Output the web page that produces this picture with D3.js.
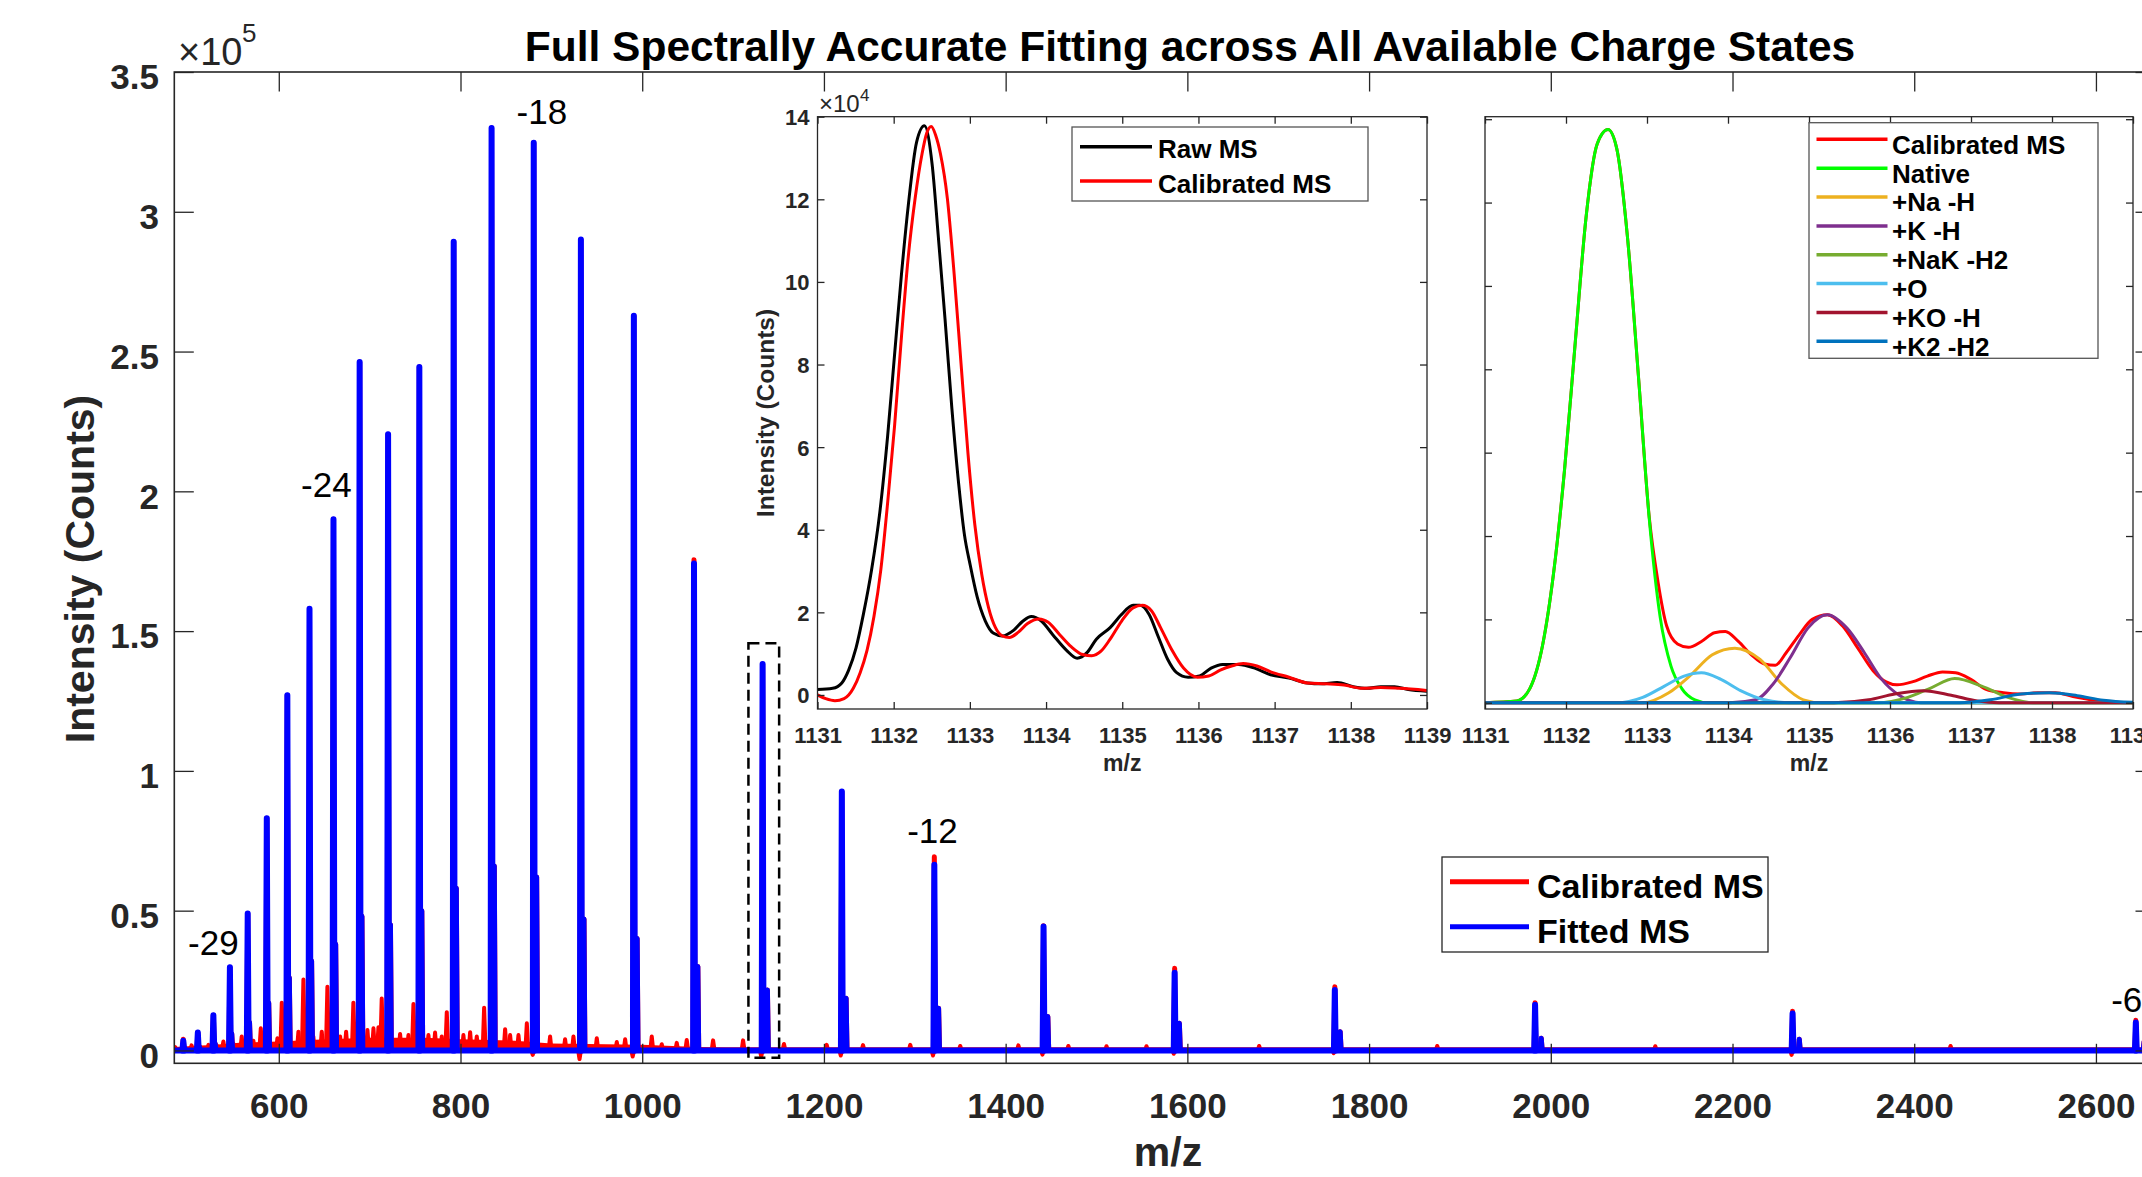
<!DOCTYPE html>
<html lang="en">
<head>
<meta charset="UTF-8">
<title>Full Spectrally Accurate Fitting across All Available Charge States</title>
<style>
  body { margin: 0; background: #fff; overflow: hidden; }
  svg { display: block; font-family: "Liberation Sans", Arial, Helvetica, sans-serif; }
</style>
</head>
<body>
<svg id="chart" width="2142" height="1177"></svg>
<script src="https://cdn.jsdelivr.net/npm/d3@7"></script>
<script>
// ---------------- data (intensities of the main panel in units of 1e5 counts) ----------------
const chargeStates = [32, 31, 30, 29, 28, 27, 26, 25, 24, 23, 22, 21, 20, 19, 18, 17, 16, 15, 14, 13, 12, 11, 10, 9, 8, 7, 6];
const peakMz = [494.9, 510.9, 528.0, 546.2, 565.8, 586.8, 609.4, 633.8, 660.2, 689.0, 720.3, 754.7, 792.5, 834.2, 880.6,
  932.5, 990.8, 1057.0, 1132.5, 1219.7, 1321.5, 1441.7, 1586.0, 1762.3, 1982.7, 2266.1, 2643.9];
const fittedHeight = [0.035, 0.064, 0.126, 0.298, 0.49, 0.831, 1.271, 1.58, 1.90, 2.463, 2.204, 2.445, 2.893, 3.300, 3.247,
  2.901, 2.628, 1.742, 1.382, 0.926, 0.664, 0.443, 0.278, 0.216, 0.163, 0.132, 0.10];
const calibratedHeight = [0.04, 0.064, 0.126, 0.298, 0.49, 0.831, 1.271, 1.58, 1.90, 2.463, 2.204, 2.445, 2.893, 3.300, 3.247,
  2.901, 2.628, 1.755, 1.382, 0.926, 0.693, 0.446, 0.294, 0.228, 0.171, 0.14, 0.108];
const shoulderMz = [496.6, 512.7, 529.9, 548.2, 567.8, 588.9, 611.6, 636.1, 662.6, 691.5, 722.9, 757.4, 795.4, 837.2, 883.8,
  935.9, 994.4, 1061.2, 1137.8, 1224.4, 1326.2, 1446.4, 1591.2, 1768.2, 1989.5, 2273.5, 2653.0];
const shoulderHeight = [0.008, 0.012, 0.025, 0.06, 0.1, 0.17, 0.26, 0.32, 0.38, 0.48, 0.45, 0.5, 0.58, 0.66, 0.62,
  0.47, 0.40, 0.30, 0.216, 0.187, 0.151, 0.121, 0.097, 0.067, 0.044, 0.04, 0.03];

// small unassigned peaks of the calibrated spectrum
const noiseMz = [486, 495, 504, 513, 522.6, 531.7, 539, 545, 550, 559.2, 566, 572, 580.2, 590, 598.5, 603.3, 612, 621.6, 627.1, 638,
  647.3, 653.5, 667.5, 674.1, 682.1, 697.6, 704.2, 709.7, 713.3, 733.5, 742.7, 748.2, 764.7, 772, 779.4, 784.9, 803.2, 810.6,
  817.9, 826, 849.1, 854.6, 863.8, 873, 898.6, 915.1, 924.3, 950, 972, 981.2, 1010.5, 1021.5, 1038, 1049, 1078, 1111, 1156,
  1203, 1243, 1295, 1350, 1414, 1469, 1511, 1555, 1679, 1875, 2115, 2440];
const noiseHeight = [0.012, 0.02, 0.018, 0.015, 0.02, 0.018, 0.032, 0.022, 0.025, 0.05, 0.03, 0.035, 0.079, 0.035, 0.044, 0.171,
  0.04, 0.067, 0.254, 0.05, 0.067, 0.228, 0.05, 0.067, 0.171, 0.073, 0.079, 0.083, 0.186, 0.059, 0.055, 0.166, 0.055, 0.064,
  0.05, 0.137, 0.055, 0.065, 0.05, 0.153, 0.076, 0.055, 0.055, 0.097, 0.05, 0.04, 0.05, 0.044, 0.03, 0.04, 0.05, 0.022,
  0.027, 0.037, 0.036, 0.036, 0.023, 0.02, 0.019, 0.02, 0.016, 0.018, 0.016, 0.015, 0.015, 0.016, 0.016, 0.015, 0.016];
// upper edge of the dense low-level band of the calibrated trace
const bandMz = [485, 530, 560, 600, 640, 700, 760, 800, 860, 900, 1000, 1060, 1100];
const bandLevel = [0.012, 0.02, 0.028, 0.032, 0.038, 0.045, 0.045, 0.04, 0.035, 0.025, 0.02, 0.012, 0.008];
const dipMz = [879.5, 931, 989.5, 1131, 1218.5, 1320, 1440.5, 1585, 1761, 2265];
const dipDepth = [-0.016, -0.031, -0.022, -0.022, -0.018, -0.018, -0.015, -0.012, -0.01, -0.016];

const peakLabels = ["-29", "-24", "-18", "-12", "-6"];
const peakLabelMz = [500.2, 624.5, 861.7, 1291.6, 2616.8];
const peakLabelY = [0.342, 1.98, 3.314, 0.742, 0.138];
const zoomBoxMz = [1116.9, 1150.7];
const zoomBoxY = [-0.026, 1.457];

const xTicks = [600, 800, 1000, 1200, 1400, 1600, 1800, 2000, 2200, 2400, 2600];
const yTicks = [0, 0.5, 1, 1.5, 2, 2.5, 3, 3.5];
const yTickLabels = ["0", "0.5", "1", "1.5", "2", "2.5", "3", "3.5"];
const mainSeries = ["Calibrated MS", "Fitted MS"];

// inset 1 (units of 1e4 counts)
const rawMz = [1131.0, 1131.199, 1131.319, 1131.409, 1131.506, 1131.602, 1131.71, 1131.819, 1131.921, 1132.011, 1132.102,
  1132.192, 1132.3, 1132.403, 1132.505, 1132.583, 1132.674, 1132.764, 1132.854, 1132.927, 1133.005, 1133.095, 1133.203,
  1133.306, 1133.426, 1133.577, 1133.697, 1133.806, 1133.938, 1134.088, 1134.269, 1134.408, 1134.54, 1134.66, 1134.841,
  1134.992, 1135.142, 1135.232, 1135.353, 1135.473, 1135.594, 1135.714, 1135.864, 1136.015, 1136.166, 1136.316, 1136.527,
  1136.738, 1136.948, 1137.189, 1137.43, 1137.61, 1137.821, 1138.032, 1138.212, 1138.393, 1138.574, 1138.754, 1138.995];
const rawInt = [0.13, 0.16, 0.29, 0.6, 1.14, 1.95, 3.03, 4.44, 6.28, 8.23, 10.18, 11.86, 13.38, 13.78, 12.84, 11.16, 9.1, 6.93,
  5.09, 3.9, 3.14, 2.38, 1.79, 1.5, 1.43, 1.57, 1.79, 1.9, 1.79, 1.46, 1.08, 0.89, 1.03, 1.35, 1.63, 1.95, 2.17, 2.17, 1.95,
  1.41, 0.87, 0.54, 0.43, 0.46, 0.65, 0.74, 0.74, 0.65, 0.49, 0.41, 0.29, 0.27, 0.3, 0.2, 0.16, 0.2, 0.2, 0.13, 0.09];
const calMz = [1131.0, 1131.108, 1131.229, 1131.349, 1131.47, 1131.56, 1131.65, 1131.741, 1131.831, 1131.921, 1132.011,
  1132.102, 1132.192, 1132.282, 1132.373, 1132.433, 1132.493, 1132.553, 1132.613, 1132.704, 1132.794, 1132.884, 1132.975,
  1133.065, 1133.155, 1133.246, 1133.336, 1133.426, 1133.517, 1133.637, 1133.757, 1133.908, 1134.028, 1134.179, 1134.329,
  1134.48, 1134.6, 1134.721, 1134.841, 1134.992, 1135.142, 1135.263, 1135.383, 1135.503, 1135.654, 1135.804, 1135.985,
  1136.135, 1136.286, 1136.436, 1136.587, 1136.768, 1136.948, 1137.189, 1137.43, 1137.671, 1137.911, 1138.152, 1138.393,
  1138.634, 1138.995];
const calInt = [0, -0.09, -0.14, -0.09, 0.16, 0.54, 1.08, 1.9, 3.03, 4.66, 6.5, 8.67, 10.62, 12.03, 13.11, 13.6, 13.76, 13.54,
  13.11, 12.03, 10.18, 8.02, 5.85, 4.12, 2.93, 2.11, 1.63, 1.43, 1.39, 1.52, 1.73, 1.84, 1.76, 1.46, 1.17, 0.98, 0.95, 1.06,
  1.35, 1.79, 2.11, 2.17, 2.04, 1.63, 1.08, 0.65, 0.43, 0.46, 0.6, 0.7, 0.76, 0.7, 0.56, 0.43, 0.29, 0.27, 0.24, 0.16, 0.18,
  0.16, 0.11];
const inset1Series = ["Raw MS", "Calibrated MS"];

// inset 2 (units of 1e4 counts)
const fitCalMz = [1131.0, 1131.392, 1131.553, 1131.714, 1131.848, 1131.982, 1132.116, 1132.25, 1132.384, 1132.518, 1132.626,
  1132.76, 1132.894, 1133.028, 1133.135, 1133.243, 1133.377, 1133.511, 1133.672, 1133.833, 1133.967, 1134.128, 1134.289,
  1134.45, 1134.584, 1134.718, 1134.879, 1135.04, 1135.227, 1135.415, 1135.603, 1135.791, 1135.952, 1136.086, 1136.274,
  1136.461, 1136.649, 1136.81, 1136.998, 1137.186, 1137.4, 1137.615, 1137.829, 1138.044, 1138.259, 1138.527, 1138.741, 1139.0];
const fitCalInt = [0, 0.04, 0.34, 1.41, 3.13, 5.59, 8.69, 11.69, 13.4, 13.75, 13.3, 11.15, 7.84, 4.45, 2.91, 1.84, 1.41, 1.33,
  1.47, 1.68, 1.71, 1.47, 1.15, 0.93, 0.9, 1.2, 1.63, 2.0, 2.11, 1.84, 1.31, 0.77, 0.5, 0.43, 0.5, 0.64, 0.74, 0.72, 0.56,
  0.32, 0.24, 0.21, 0.24, 0.24, 0.15, 0.06, 0.02, 0];
const nativeMz = [1131.0, 1131.392, 1131.553, 1131.714, 1131.848, 1131.982, 1132.116, 1132.25, 1132.384, 1132.518, 1132.626,
  1132.76, 1132.894, 1133.028, 1133.162, 1133.296, 1133.43, 1133.591, 1133.752, 1139.0];
const nativeInt = [0, 0.04, 0.34, 1.41, 3.13, 5.59, 8.69, 11.69, 13.4, 13.75, 13.3, 11.15, 7.84, 4.41, 2.06, 0.88, 0.34, 0.07, 0, 0];
const naMz = [1131.0, 1132.947, 1133.269, 1133.538, 1133.806, 1134.085, 1134.396, 1134.664, 1134.932, 1135.147, 1139.0];
const naInt = [0, 0, 0.24, 0.66, 1.15, 1.31, 1.04, 0.45, 0.07, 0, 0];
const kMz = [1131.0, 1134.02, 1134.342, 1134.557, 1134.771, 1134.986, 1135.227, 1135.469, 1135.684, 1135.898, 1136.113, 1136.381, 1139.0];
const kInt = [0, 0, 0.07, 0.45, 1.09, 1.79, 2.11, 1.79, 1.2, 0.56, 0.18, 0, 0];
const nakMz = [1131.0, 1135.844, 1136.22, 1136.488, 1136.799, 1137.132, 1137.454, 1137.776, 1139.0];
const nakInt = [0, 0, 0.13, 0.34, 0.58, 0.4, 0.13, 0, 0];
const oMz = [1131.0, 1132.626, 1132.947, 1133.216, 1133.457, 1133.672, 1133.913, 1134.155, 1134.45, 1134.771, 1139.0];
const oInt = [0, 0, 0.13, 0.4, 0.64, 0.72, 0.56, 0.29, 0.07, 0, 0];
const koMz = [1131.0, 1135.308, 1135.737, 1136.059, 1136.408, 1136.756, 1137.078, 1137.347, 1139.0];
const koInt = [0, 0, 0.07, 0.21, 0.29, 0.18, 0.04, 0, 0];
const k2Mz = [1131.0, 1136.864, 1137.239, 1137.615, 1137.964, 1138.312, 1138.634, 1139.0];
const k2Int = [0, 0, 0.07, 0.21, 0.24, 0.17, 0.06, 0.01];
const inset2Series = ["Calibrated MS", "Native", "+Na -H", "+K -H", "+NaK -H2", "+O", "+KO -H", "+K2 -H2"];

const insetXTicks = [1131, 1132, 1133, 1134, 1135, 1136, 1137, 1138, 1139];
const insetYTicks = [0, 2, 4, 6, 8, 10, 12, 14];

// ---------------- setup ----------------
const FONT = '"Liberation Sans", Arial, Helvetica, sans-serif';
const AX = "#262626";
const svg = d3.select("#chart");
const defs = svg.append("defs");

function clip(id, b) {
  defs.append("clipPath").attr("id", id).append("rect")
    .attr("x", b.left).attr("y", b.top)
    .attr("width", b.right - b.left).attr("height", b.bottom - b.top);
}
function spike(xs, ys, mz, h, hw) {
  return `M${xs(mz - hw)},${ys(0)}L${xs(mz)},${ys(h)}L${xs(mz + hw)},${ys(0)}`;
}
function styleTicks(g, size) {
  g.select(".domain").remove();
  g.selectAll(".tick line").attr("stroke", AX).attr("stroke-width", 1.3);
  g.selectAll(".tick text").attr("fill", AX)
    .style("font-family", FONT).style("font-weight", "bold").style("font-size", size + "px");
}

// ---------------- main panel ----------------
const mainBox = {left: 174.3, right: 2155, top: 72, bottom: 1063.3};
const x = d3.scaleLinear().domain([485, 2665]).range([mainBox.left, mainBox.right]);
const y = d3.scaleLinear().domain([-0.046, 3.5]).range([mainBox.bottom, mainBox.top]);
clip("clip-main", mainBox);

const plot = svg.append("g").attr("clip-path", "url(#clip-main)")
  .attr("fill", "none").attr("stroke-linecap", "round").attr("stroke-linejoin", "round");

// calibrated MS (red)
plot.append("line").attr("x1", x(485)).attr("x2", x(2665)).attr("y1", y(0.004)).attr("y2", y(0.004))
  .attr("stroke", "#ff0000").attr("stroke-width", 4);
plot.append("path").datum(d3.zip(bandMz, bandLevel))
  .attr("d", d3.area().x(d => x(d[0])).y0(y(0)).y1(d => y(d[1])))
  .attr("fill", "#ff0000").attr("stroke", "none");
plot.append("g").selectAll("path").data(d3.range(noiseMz.length)).join("path")
  .attr("d", i => spike(x, y, noiseMz[i], noiseHeight[i], 1.6))
  .attr("stroke", "#ff0000").attr("stroke-width", 4);
plot.append("g").selectAll("path").data(d3.range(dipMz.length)).join("path")
  .attr("d", i => spike(x, y, dipMz[i], dipDepth[i], 1.5))
  .attr("stroke", "#ff0000").attr("stroke-width", 4);
plot.append("g").selectAll("path").data(d3.range(peakMz.length)).join("path")
  .attr("d", i => spike(x, y, peakMz[i], calibratedHeight[i], 1.0) + spike(x, y, shoulderMz[i], shoulderHeight[i], 1.0))
  .attr("stroke", "#ff0000").attr("stroke-width", 5);

// fitted MS (blue)
plot.append("line").attr("x1", x(485)).attr("x2", x(2665)).attr("y1", y(0)).attr("y2", y(0))
  .attr("stroke", "#0000ff").attr("stroke-width", 6);
plot.append("g").selectAll("path").data(d3.range(peakMz.length)).join("path")
  .attr("d", i => spike(x, y, shoulderMz[i], shoulderHeight[i], 1.0))
  .attr("stroke", "#0000ff").attr("stroke-width", 5);
plot.append("g").selectAll("path").data(d3.range(peakMz.length)).join("path")
  .attr("d", i => spike(x, y, peakMz[i], fittedHeight[i], 1.0))
  .attr("stroke", "#0000ff").attr("stroke-width", 6);

// dashed box around the -14 peak
svg.append("rect")
  .attr("x", x(zoomBoxMz[0])).attr("y", y(zoomBoxY[1]))
  .attr("width", x(zoomBoxMz[1]) - x(zoomBoxMz[0])).attr("height", y(zoomBoxY[0]) - y(zoomBoxY[1]))
  .attr("fill", "none").attr("stroke", "#000").attr("stroke-width", 2.5).attr("stroke-dasharray", "11,6");

// charge state labels
svg.append("g").selectAll("text").data(d3.range(peakLabels.length)).join("text")
  .attr("x", i => x(peakLabelMz[i])).attr("y", i => y(peakLabelY[i]))
  .style("font", `35px ${FONT}`).attr("fill", "#000")
  .text(i => peakLabels[i]);

// main axes
const gxb = svg.append("g").attr("transform", `translate(0,${mainBox.bottom})`)
  .call(d3.axisBottom(x).tickValues(xTicks).tickSizeInner(-19.5).tickSizeOuter(0).tickFormat(d3.format("d")));
styleTicks(gxb, 35);
gxb.selectAll(".tick text").attr("y", 54.7).attr("dy", null);

const gxt = svg.append("g").attr("transform", `translate(0,${mainBox.top})`)
  .call(d3.axisTop(x).tickValues(xTicks).tickSizeInner(-19.5).tickSizeOuter(0).tickFormat(""));
styleTicks(gxt, 35);

const gyl = svg.append("g").attr("transform", `translate(${mainBox.left},0)`)
  .call(d3.axisLeft(y).tickValues(yTicks).tickSizeInner(-19.5).tickSizeOuter(0).tickPadding(15.3)
    .tickFormat((d, i) => yTickLabels[i]));
styleTicks(gyl, 35);
gyl.selectAll(".tick text").attr("dy", "0.48em");

const gyr = svg.append("g").attr("transform", `translate(${mainBox.right},0)`)
  .call(d3.axisRight(y).tickValues(yTicks).tickSizeInner(-19.5).tickSizeOuter(0).tickFormat(""));
styleTicks(gyr, 35);

svg.append("rect").attr("x", mainBox.left).attr("y", mainBox.top)
  .attr("width", mainBox.right - mainBox.left).attr("height", mainBox.bottom - mainBox.top)
  .attr("fill", "none").attr("stroke", AX).attr("stroke-width", 1.6);

// exponent marker
svg.append("text").attr("x", 178).attr("y", 65).attr("fill", AX).style("font", `38px ${FONT}`).text("\u00d710");
svg.append("text").attr("x", 242).attr("y", 42).attr("fill", AX).style("font", `26px ${FONT}`).text("5");

// titles
svg.append("text").attr("x", 1190).attr("y", 61).attr("text-anchor", "middle").attr("fill", "#000")
  .style("font", `bold 42.5px ${FONT}`)
  .text("Full Spectrally Accurate Fitting across All Available Charge States");
svg.append("text").attr("transform", "translate(94,569) rotate(-90)").attr("text-anchor", "middle")
  .attr("fill", AX).style("font", `bold 41px ${FONT}`).text("Intensity (Counts)");
svg.append("text").attr("x", 1168).attr("y", 1166).attr("text-anchor", "middle")
  .attr("fill", AX).style("font", `bold 41px ${FONT}`).text("m/z");

// main legend
const lg = svg.append("g");
lg.append("rect").attr("x", 1442).attr("y", 857).attr("width", 326).attr("height", 95)
  .attr("fill", "#fff").attr("stroke", AX).attr("stroke-width", 1.3);
const mainColors = ["#ff0000", "#0000ff"];
mainSeries.forEach((name, i) => {
  const ly = 881.7 + i * 45;
  lg.append("line").attr("x1", 1450).attr("x2", 1529).attr("y1", ly).attr("y2", ly)
    .attr("stroke", mainColors[i]).attr("stroke-width", 5);
  lg.append("text").attr("x", 1537).attr("y", ly + 16).attr("fill", "#000")
    .style("font", `bold 34px ${FONT}`).text(name);
});

// ---------------- insets ----------------
function drawInset(box, yDomain, showYLabels) {
  const xs = d3.scaleLinear().domain([1131, 1139]).range([box.left, box.right]);
  const ys = d3.scaleLinear().domain(yDomain).range([box.bottom, box.top]);
  const g = svg.append("g");
  g.append("rect").attr("x", box.left).attr("y", box.top)
    .attr("width", box.right - box.left).attr("height", box.bottom - box.top).attr("fill", "#fff");
  const id = "clip-" + Math.round(box.left);
  clip(id, box);
  const inner = g.append("g").attr("clip-path", `url(#${id})`);

  const b = g.append("g").attr("transform", `translate(0,${box.bottom})`)
    .call(d3.axisBottom(xs).tickValues(insetXTicks).tickSizeInner(-7).tickSizeOuter(0).tickFormat(d3.format("d")));
  styleTicks(b, 22);
  b.selectAll(".tick text").attr("y", 34).attr("dy", null);
  styleTicks(g.append("g").attr("transform", `translate(0,${box.top})`)
    .call(d3.axisTop(xs).tickValues(insetXTicks).tickSizeInner(-7).tickSizeOuter(0).tickFormat("")), 22);
  const l = g.append("g").attr("transform", `translate(${box.left},0)`)
    .call(d3.axisLeft(ys).tickValues(insetYTicks).tickSizeInner(-7).tickSizeOuter(0).tickPadding(8)
      .tickFormat(showYLabels ? d3.format("d") : ""));
  styleTicks(l, 22);
  l.selectAll(".tick text").attr("dy", "0.36em");
  styleTicks(g.append("g").attr("transform", `translate(${box.right},0)`)
    .call(d3.axisRight(ys).tickValues(insetYTicks).tickSizeInner(-7).tickSizeOuter(0).tickFormat("")), 22);

  g.append("rect").attr("x", box.left).attr("y", box.top)
    .attr("width", box.right - box.left).attr("height", box.bottom - box.top)
    .attr("fill", "none").attr("stroke", AX).attr("stroke-width", 1.3);
  g.append("text").attr("x", (box.left + box.right) / 2).attr("y", 771).attr("text-anchor", "middle")
    .attr("fill", AX).style("font", `bold 23px ${FONT}`).text("m/z");
  return {xs, ys, g, inner};
}

function curve(inner, xs, ys, mz, vals, color, w) {
  const line = d3.line().x(d => xs(d[0])).y(d => ys(d[1])).curve(d3.curveMonotoneX);
  inner.append("path").datum(d3.zip(mz, vals)).attr("d", line)
    .attr("fill", "none").attr("stroke", color).attr("stroke-width", w)
    .attr("stroke-linejoin", "round").attr("stroke-linecap", "round");
}

function legend(g, box, names, colors, lineY0, step, textDy, lineX, textX) {
  g.append("rect").attr("x", box.x).attr("y", box.y).attr("width", box.w).attr("height", box.h)
    .attr("fill", "#fff").attr("stroke", "#555").attr("stroke-width", 1.3);
  names.forEach((name, i) => {
    const ly = lineY0 + i * step;
    g.append("line").attr("x1", lineX[0]).attr("x2", lineX[1]).attr("y1", ly).attr("y2", ly)
      .attr("stroke", colors[i]).attr("stroke-width", 3.5);
    g.append("text").attr("x", textX).attr("y", ly + textDy).attr("fill", "#000")
      .style("font", `bold 26px ${FONT}`).text(name);
  });
}

// inset 1: raw vs calibrated
const in1 = drawInset({left: 817.5, right: 1427, top: 116.7, bottom: 709}, [-0.34, 14.0], true);
curve(in1.inner, in1.xs, in1.ys, rawMz, rawInt, "#000000", 3);
curve(in1.inner, in1.xs, in1.ys, calMz, calInt, "#ff0000", 3);
in1.g.append("text").attr("transform", "translate(774,413) rotate(-90)").attr("text-anchor", "middle")
  .attr("fill", AX).style("font", `bold 24.5px ${FONT}`).text("Intensity (Counts)");
in1.g.append("text").attr("x", 819).attr("y", 112).attr("fill", AX).style("font", `24px ${FONT}`).text("\u00d710");
in1.g.append("text").attr("x", 860).attr("y", 101).attr("fill", AX).style("font", `17px ${FONT}`).text("4");
legend(in1.g, {x: 1072, y: 127, w: 296, h: 74}, inset1Series, ["#000000", "#ff0000"],
  146.7, 34.3, 11.7, [1080, 1152], 1158);

// inset 2: decomposition
const in2 = drawInset({left: 1485, right: 2133, top: 116.7, bottom: 709}, [-0.15, 14.06], false);
const in2Colors = ["#ff0000", "#00ff00", "#EDB120", "#7E2F8E", "#77AC30", "#4DBEEE", "#A2142F", "#0072BD"];
const in2Data = [[fitCalMz, fitCalInt], [nativeMz, nativeInt], [naMz, naInt], [kMz, kInt],
  [nakMz, nakInt], [oMz, oInt], [koMz, koInt], [k2Mz, k2Int]];
in2Data.forEach((d, i) => curve(in2.inner, in2.xs, in2.ys, d[0], d[1], in2Colors[i], 3));
legend(in2.g, {x: 1809, y: 122.7, w: 289, h: 235.6}, inset2Series, in2Colors,
  139.3, 28.86, 14.4, [1816.5, 1887.5], 1892);
</script>
</body>
</html>
